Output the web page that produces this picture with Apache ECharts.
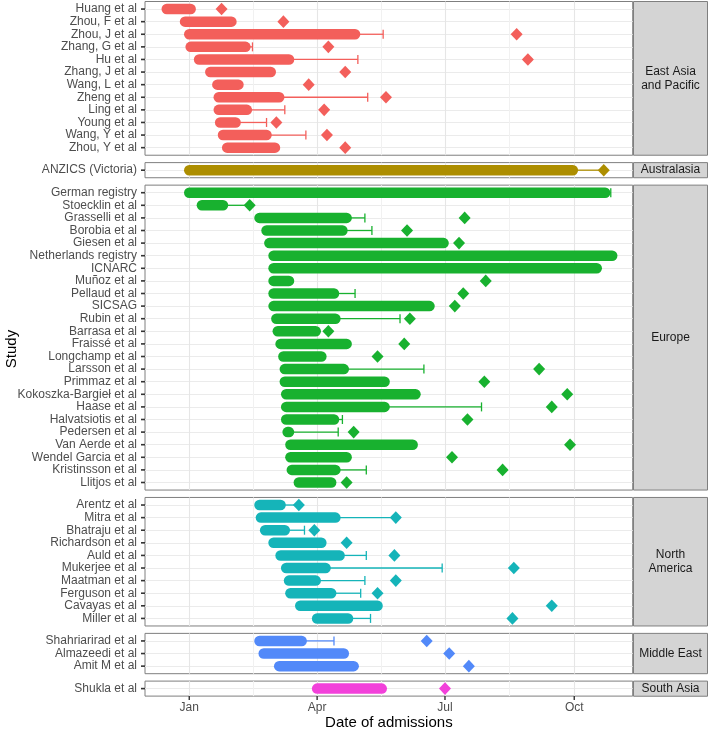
<!DOCTYPE html>
<html><head><meta charset="utf-8">
<script src="https://cdn.jsdelivr.net/npm/echarts@6/dist/echarts.min.js"></script>
<style>html,body{margin:0;padding:0;background:#fff}#chart{width:709px;height:731px}</style>
</head><body><div id="chart"></div>
<script>
const regionNames = ['East Asia and Pacific','Australasia','Europe','North America','Middle East','South Asia'];
const stripLabels = ['East Asia\nand Pacific','Australasia','Europe','North\nAmerica','Middle East','South Asia'];
const regionColors = ['#F35F5B','#AD8E00','#18B12F','#15B4B9','#5289F9','#F241DA'];

const studies = [
  'Huang et al','Zhou, F et al','Zhou, J et al','Zhang, G et al','Hu et al','Zhang, J et al','Wang, L et al','Zheng et al','Ling et al','Young et al','Wang, Y et al','Zhou, Y et al',
  'ANZICS (Victoria)',
  'German registry','Stoecklin et al','Grasselli et al','Borobia et al','Giesen et al','Netherlands registry','ICNARC','Muñoz et al','Pellaud et al','SICSAG','Rubin et al','Barrasa et al','Fraissé et al','Longchamp et al','Larsson et al','Primmaz et al','Kokoszka-Bargieł et al','Haase et al','Halvatsiotis et al','Pedersen et al','Van Aerde et al','Wendel Garcia et al','Kristinsson et al','Llitjos et al',
  'Arentz et al','Mitra et al','Bhatraju et al','Richardson et al','Auld et al','Mukerjee et al','Maatman et al','Ferguson et al','Cavayas et al','Miller et al',
  'Shahriarirad et al','Almazeedi et al','Amit M et al',
  'Shukla et al'
];
const studyRegion = [
  'East Asia and Pacific','East Asia and Pacific','East Asia and Pacific','East Asia and Pacific','East Asia and Pacific','East Asia and Pacific','East Asia and Pacific','East Asia and Pacific','East Asia and Pacific','East Asia and Pacific','East Asia and Pacific','East Asia and Pacific',
  'Australasia',
  'Europe','Europe','Europe','Europe','Europe','Europe','Europe','Europe','Europe','Europe','Europe','Europe','Europe','Europe','Europe','Europe','Europe','Europe','Europe','Europe','Europe','Europe','Europe','Europe',
  'North America','North America','North America','North America','North America','North America','North America','North America','North America','North America',
  'Middle East','Middle East','Middle East',
  'South Asia'
];
const startDates = [
  '2019-12-16','2019-12-29','2020-01-01','2020-01-02','2020-01-08','2020-01-16','2020-01-21','2020-01-22','2020-01-22','2020-01-23','2020-01-25','2020-01-28',
  '2020-01-01',
  '2020-01-01','2020-01-10','2020-02-20','2020-02-25','2020-02-27','2020-03-01','2020-03-01','2020-03-01','2020-03-01','2020-03-01','2020-03-03','2020-03-04','2020-03-06','2020-03-08','2020-03-09','2020-03-09','2020-03-10','2020-03-10','2020-03-10','2020-03-11','2020-03-13','2020-03-13','2020-03-14','2020-03-19',
  '2020-02-20','2020-02-21','2020-02-24','2020-03-01','2020-03-06','2020-03-10','2020-03-12','2020-03-13','2020-03-20','2020-04-01',
  '2020-02-20','2020-02-23','2020-03-05',
  '2020-04-01'
];
const barEndDates = [
  '2020-01-02','2020-01-31','2020-04-28','2020-02-10','2020-03-12','2020-02-28','2020-02-05','2020-03-05','2020-02-11','2020-02-03','2020-02-25','2020-03-02',
  '2020-09-30',
  '2020-10-23','2020-01-25','2020-04-22','2020-04-19','2020-06-30','2020-10-28','2020-10-17','2020-03-12','2020-04-13','2020-06-20','2020-04-14','2020-03-31','2020-04-22','2020-04-04','2020-04-20','2020-05-19','2020-06-10','2020-05-19','2020-04-13','2020-03-12','2020-06-08','2020-04-22','2020-04-14','2020-04-11',
  '2020-03-06','2020-04-14','2020-03-09','2020-04-04','2020-04-17','2020-04-07','2020-03-31','2020-04-11','2020-05-14','2020-04-23',
  '2020-03-21','2020-04-20','2020-04-27',
  '2020-05-17'
];
const whiskerEndDates = [
  null,null,'2020-05-18','2020-02-15','2020-04-30',null,null,'2020-05-07','2020-03-09','2020-02-25','2020-03-24',null,
  '2020-10-22',
  '2020-10-27','2020-02-13','2020-05-05','2020-05-10',null,null,null,null,'2020-04-28',null,'2020-05-30',null,null,null,'2020-06-16',null,null,'2020-07-27','2020-04-19','2020-04-16',null,null,'2020-05-06',null,
  '2020-03-19','2020-05-27','2020-03-23',null,'2020-05-06','2020-06-29','2020-05-05','2020-05-02',null,'2020-05-09',
  '2020-04-13',null,null,
  null
];
const markerDates = [
  '2020-01-24','2020-03-08','2020-08-21','2020-04-09','2020-08-29','2020-04-21','2020-03-26','2020-05-20','2020-04-06','2020-03-03','2020-04-08','2020-04-21',
  '2020-10-22',
  null,'2020-02-13','2020-07-15','2020-06-04','2020-07-11',null,null,'2020-07-30','2020-07-14','2020-07-08','2020-06-06','2020-04-09','2020-06-02','2020-05-14','2020-09-06','2020-07-29','2020-09-26','2020-09-15','2020-07-17','2020-04-27','2020-09-28','2020-07-06','2020-08-11','2020-04-22',
  '2020-03-19','2020-05-27','2020-03-30','2020-04-22','2020-05-26','2020-08-19','2020-05-27','2020-05-14','2020-09-15','2020-08-18',
  '2020-06-18','2020-07-04','2020-07-18',
  '2020-07-01'
];
const tickDates = ['2020-01-01','2020-04-01','2020-07-01','2020-10-01'];
const tickLabels = ['Jan','Apr','Jul','Oct'];

// ---- helpers / layout ----
const ORIGIN = Date.UTC(2020,0,1);
function toDay(s){ if(!s) return NaN; const p=s.split('-').map(Number); return (Date.UTC(p[0],p[1]-1,p[2])-ORIGIN)/86400000; }
const majorBreaks = tickDates.map(toDay);
const minorBreaks = [];
for (let i=0;i<majorBreaks.length-1;i++) minorBreaks.push((majorBreaks[i]+majorBreaks[i+1])/2);
const allBreaks = majorBreaks.concat(minorBreaks).sort((a,b)=>a-b);
const X_MIN = -31.5, X_MAX = 315.6;

const UNIT = 12.6, GAP = 7.4, TOP0 = 1.5, LEFT = 145, RIGHT_EDGE = 632.7, STRIP_W = 75;
const FONT = '"Liberation Sans", Arial, Helvetica, sans-serif';
const BORDER = '#7f7f7f';
const TICK_COLOR = '#333333';

const grids=[], xAxes=[], yAxes=[], series=[], graphics=[];
let panelTop = TOP0;
regionNames.forEach((reg, gi) => {
  const idx = [];
  studies.forEach((s,i)=>{ if(studyRegion[i]===reg) idx.push(i); });
  const n = idx.length;
  const h = (n + 0.2) * UNIT;
  grids.push({left: LEFT, top: panelTop, width: RIGHT_EDGE-LEFT, height: h, show: true,
    borderColor: BORDER, borderWidth: 1, backgroundColor: '#fff'});
  xAxes.push({gridIndex: gi, type: 'value', min: X_MIN, max: X_MAX, position:'bottom',
    axisLine:{show:false, onZero:false}, axisLabel:{show:false},
    axisTick:{show:false, customValues: allBreaks},
    splitLine:{show:true, lineStyle:{color:['#e6e6e6','#f1f1f1'], width:1.1}}});
  const names = idx.map(i=>studies[i]);
  const rows = names.map((_,k)=>k);
  yAxes.push({gridIndex: gi, type:'value', inverse:true, min:-0.6, max:n-0.4, position:'left',
    axisLine:{show:false, onZero:false},
    axisTick:{show:false, customValues: rows},
    axisLabel:{show:true, customValues: rows, margin: 0,
      formatter: v => '{n|' + (names[Math.round(v)] || '') + '}{t|}',
      rich:{
        n:{color:'#4D4D4D', fontSize:12, fontFamily:FONT, padding:[0,4,0,0], lineHeight:14, verticalAlign:'middle'},
        t:{width:4, height:1.6, backgroundColor:TICK_COLOR, verticalAlign:'middle'}
      }},
    splitLine:{show:true, lineStyle:{color:'#ebebeb', width:1.1}}});
  series.push({
    type:'custom', xAxisIndex: gi, yAxisIndex: gi, silent: true,
    itemStyle:{color: regionColors[gi]},
    encode:{x:[1,2], y:0},
    data: idx.map((i,k)=>[k, toDay(startDates[i]), toDay(barEndDates[i]),
      whiskerEndDates[i]?toDay(whiskerEndDates[i]):NaN, markerDates[i]?toDay(markerDates[i]):NaN]),
    renderItem: function(params, api){
      const color = regionColors[gi];
      const y = api.value(0), s = api.value(1), e = api.value(2), w = api.value(3), d = api.value(4);
      const p0 = api.coord([s,y]), p1 = api.coord([e,y]);
      const ch = [];
      if (!isNaN(w)) {
        const pw = api.coord([w,y]);
        ch.push({type:'line', shape:{x1:p1[0],y1:p1[1],x2:pw[0],y2:pw[1]}, style:{stroke:color,lineWidth:1.3}});
        ch.push({type:'line', shape:{x1:pw[0],y1:pw[1]-4.5,x2:pw[0],y2:pw[1]+4.5}, style:{stroke:color,lineWidth:1.3}});
      }
      ch.push({type:'line', shape:{x1:p0[0],y1:p0[1],x2:p1[0],y2:p1[1]}, style:{stroke:color,lineWidth:10.5,lineCap:'round'}});
      if (!isNaN(d)) {
        const pd = api.coord([d,y]);
        ch.push({type:'polygon', shape:{points:[[pd[0],pd[1]-6.3],[pd[0]+6,pd[1]],[pd[0],pd[1]+6.3],[pd[0]-6,pd[1]]]}, style:{fill:color}});
      }
      return {type:'group', children: ch};
    }
  });
  graphics.push({type:'rect', shape:{x: RIGHT_EDGE+0.8, y: panelTop, width: STRIP_W-1, height: h},
    style:{fill:'#d4d4d4', stroke: BORDER, lineWidth:1}, z: 10});
  graphics.push({type:'text', x: RIGHT_EDGE+0.8+(STRIP_W-1)/2, y: panelTop + h/2,
    style:{text: stripLabels[gi], fill:'#1a1a1a', font: '12px ' + FONT, align:'center', verticalAlign:'middle', lineHeight: 14}, z: 11});
  panelTop += h + GAP;
});
const lastGrid = regionNames.length - 1;
xAxes.push({gridIndex: lastGrid, type:'value', min: X_MIN, max: X_MAX, position:'bottom',
  axisLine:{show:false, onZero:false}, splitLine:{show:false},
  axisTick:{show:false, customValues: majorBreaks},
  axisLabel:{show:true, customValues: majorBreaks, margin: 0,
    formatter: v => { const k = majorBreaks.indexOf(v); return '{t|}\n{n|' + (k>=0 ? tickLabels[k] : '') + '}'; },
    rich:{
      t:{width:1.4, height:4, lineHeight:4, backgroundColor:TICK_COLOR},
      n:{color:'#4D4D4D', fontSize:12, fontFamily:FONT, lineHeight:14, padding:[2,0,0,0]}
    }},
  name:'Date of admissions', nameLocation:'middle', nameGap: 18,
  nameTextStyle:{color:'#000', fontSize: 15, fontFamily: FONT}});
graphics.push({type:'text', x: 12, y: 349, rotation: Math.PI/2,
  style:{text:'Study', fill:'#000', font:'15px ' + FONT, align:'center', verticalAlign:'middle'}});

const chart = echarts.init(document.getElementById('chart'), null, {renderer:'canvas'});
chart.setOption({
  animation:false, backgroundColor:'#fff',
  grid: grids, xAxis: xAxes, yAxis: yAxes, series: series, graphic: graphics
});
</script></body></html>
